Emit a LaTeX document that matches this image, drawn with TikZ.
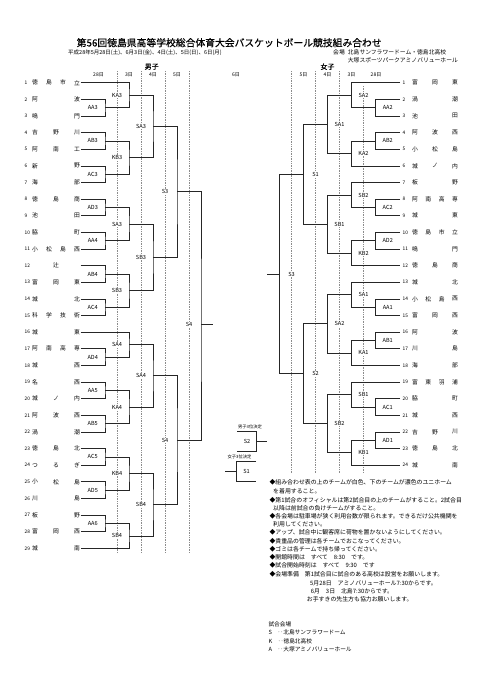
\documentclass[tikz,border=0pt]{standalone}
\usepackage{fontspec}
\setmainfont{Noto Sans CJK JP}
\newfontfamily\boldish[FakeBold=0.6]{Noto Sans CJK JP}
\newcommand\Yr[1]{82.7+16.63*(#1-1)}
\tikzset{
  br/.style={draw=black!85, line width=0.7pt},
  sep/.style={draw=black!45, line width=0.5pt, dash pattern=on 1pt off 0.7pt},
  lab/.style={font=\fontsize{5.6}{6}\selectfont, fill=white, inner sep=0.6pt},
  nm/.style={font=\fontsize{5.8}{6}\selectfont, inner sep=0pt},
  num/.style={font=\fontsize{4.8}{5}\selectfont, inner sep=0pt, anchor=west},
  txt/.style={font=\fontsize{5.9}{6}\selectfont, inner sep=0pt, anchor=west},
  day/.style={font=\fontsize{5}{5}\selectfont, inner sep=0pt},
  hd/.style={font=\boldish\fontsize{7}{7}\selectfont, inner sep=0pt},
  small/.style={font=\fontsize{4.3}{5}\selectfont, inner sep=0pt},
}
\newcommand\mt[7]{%
  \coordinate (#1) at (#2,{\Yr{#3}});
  \draw[br] (#4) -| (#1) |- (#5);
  \node[lab] (#1l) at (#6,{\Yr{#3}}) {#7};
}
\newcommand\tmM[3]{%
  \coordinate (m#1) at (80.5,{\Yr{#1}});
  \node[num] (mnum#1) at (24.5,{\Yr{#1}}) {#1};
  \foreach \c [count=\k] in {#3} {\node[nm] (mname#1-\k) at ({35+21*(#2==1)+(\k-1)*42/max(#2-1,1)},{\Yr{#1}}) {\c};}
}
\newcommand\tmW[3]{%
  \coordinate (w#1) at (400,{\Yr{#1}});
  \node[num] (wnum#1) at (402.5,{\Yr{#1}}) {#1};
  \foreach \c [count=\k] in {#3} {\node[nm] (wname#1-\k) at ({415+20*(#2==1)+(\k-1)*40/max(#2-1,1)},{\Yr{#1}}) {\c};}
}
\begin{document}
\begin{tikzpicture}[x=1pt,y=-1pt]
\useasboundingbox[fill=white] (0,0) rectangle (481,680);
% header
\node[font=\boldish\fontsize{9.8}{10}\selectfont, inner sep=0pt] (title) at (229.2,42.7) {第56回徳島県高等学校総合体育大会バスケットボール競技組み合わせ};
\node[txt, font=\fontsize{5.5}{6}\selectfont] (dates) at (68,52.3) {平成28年5月28日(土)、6月3日(金)、4日(土)、5日(日)、6日(月)};
\node[txt, font=\fontsize{5.8}{6}\selectfont] (kaijo) at (333,52.3) {会場};
\node[txt, font=\fontsize{5.8}{6}\selectfont] (ven1) at (347.7,52.3) {北島サンフラワードーム・徳島北高校};
\node[txt, font=\fontsize{5.8}{6}\selectfont] (ven2) at (347.7,60) {大塚スポーツパークアミノバリューホール};
\node[hd] (boys) at (151.7,66.7) {男子};
\node[hd] (girls) at (327.5,66.7) {女子};
\node[day] (d1) at (98.5,75) {28日};
\node[day] (d2) at (129,75) {3日};
\node[day] (d3) at (153,75) {4日};
\node[day] (d4) at (177,75) {5日};
\node[day] (d5) at (236,75) {6日};
\node[day] (e4) at (303.5,75) {5日};
\node[day] (e3) at (327.5,75) {4日};
\node[day] (e2) at (351.5,75) {3日};
\node[day] (e1) at (376,75) {28日};
% separators
\foreach \sx in {117,141,165,189} {\draw[sep] (\sx,71) -- (\sx,553);}
\foreach \sx in {291.5,315.5,339.5} {\draw[sep] (\sx,71) -- (\sx,473);}
\draw[sep] (363.5,86) -- (363.5,473);
% men teams
\tmM{1}{4}{徳,島,市,立}
\tmM{2}{2}{阿,波}
\tmM{3}{2}{鳴,門}
\tmM{4}{3}{吉,野,川}
\tmM{5}{3}{阿,南,工}
\tmM{6}{2}{新,野}
\tmM{7}{2}{海,部}
\tmM{8}{3}{徳,島,商}
\tmM{9}{2}{池,田}
\tmM{10}{2}{脇,町}
\tmM{11}{4}{小,松,島,西}
\tmM{12}{1}{辻}
\tmM{13}{3}{富,岡,東}
\tmM{14}{2}{城,北}
\tmM{15}{4}{科,学,技,術}
\tmM{16}{2}{城,東}
\tmM{17}{4}{阿,南,高,専}
\tmM{18}{2}{城,西}
\tmM{19}{2}{名,西}
\tmM{20}{3}{城,ノ,内}
\tmM{21}{3}{阿,波,西}
\tmM{22}{2}{渦,潮}
\tmM{23}{3}{徳,島,北}
\tmM{24}{3}{つ,る,ぎ}
\tmM{25}{3}{小,松,島}
\tmM{26}{2}{川,島}
\tmM{27}{2}{板,野}
\tmM{28}{3}{富,岡,西}
\tmM{29}{2}{城,南}
% women teams
\tmW{1}{3}{富,岡,東}
\tmW{2}{2}{渦,潮}
\tmW{3}{2}{池,田}
\tmW{4}{3}{阿,波,西}
\tmW{5}{3}{小,松,島}
\tmW{6}{3}{城,ノ,内}
\tmW{7}{2}{板,野}
\tmW{8}{4}{阿,南,高,専}
\tmW{9}{2}{城,東}
\tmW{10}{4}{徳,島,市,立}
\tmW{11}{2}{鳴,門}
\tmW{12}{3}{徳,島,商}
\tmW{13}{2}{城,北}
\tmW{14}{4}{小,松,島,西}
\tmW{15}{3}{富,岡,西}
\tmW{16}{2}{阿,波}
\tmW{17}{2}{川,島}
\tmW{18}{2}{海,部}
\tmW{19}{4}{富,東,羽,浦}
\tmW{20}{2}{脇,町}
\tmW{21}{2}{城,西}
\tmW{22}{3}{吉,野,川}
\tmW{23}{3}{徳,島,北}
\tmW{24}{2}{城,南}
% men bracket
\mt{AA3}{105}{2.5}{m2}{m3}{92.75}{AA3}
\mt{KA3}{129}{1.75}{m1}{AA3}{117}{KA3}
\mt{AB3}{105}{4.5}{m4}{m5}{92.75}{AB3}
\mt{AC3}{105}{6.5}{m6}{m7}{92.75}{AC3}
\mt{KB3}{129}{5.5}{AB3}{AC3}{117}{KB3}
\mt{SA3a}{153}{3.625}{KA3}{KB3}{141}{SA3}
\mt{AD3}{105}{8.5}{m8}{m9}{92.75}{AD3}
\mt{AA4}{105}{10.5}{m10}{m11}{92.75}{AA4}
\mt{SA3b}{129}{9.5}{AD3}{AA4}{117}{SA3}
\mt{AB4}{105}{12.5}{m12}{m13}{92.75}{AB4}
\mt{AC4}{105}{14.5}{m14}{m15}{92.75}{AC4}
\mt{SB3a}{129}{13.5}{AB4}{AC4}{117}{SB3}
\mt{SB3b}{153}{11.5}{SA3b}{SB3a}{141}{SB3}
\mt{S3m}{177}{7.5625}{SA3a}{SB3b}{165}{S3}
\mt{AD4}{105}{17.5}{m17}{m18}{92.75}{AD4}
\mt{SA4a}{129}{16.75}{m16}{AD4}{117}{SA4}
\mt{AA5}{105}{19.5}{m19}{m20}{92.75}{AA5}
\mt{AB5}{105}{21.5}{m21}{m22}{92.75}{AB5}
\mt{KA4}{129}{20.5}{AA5}{AB5}{117}{KA4}
\mt{SA4b}{153}{18.625}{SA4a}{KA4}{141}{SA4}
\mt{AC5}{105}{23.5}{m23}{m24}{92.75}{AC5}
\mt{AD5}{105}{25.5}{m25}{m26}{92.75}{AD5}
\mt{KB4}{129}{24.5}{AC5}{AD5}{117}{KB4}
\mt{AA6}{105}{27.5}{m27}{m28}{92.75}{AA6}
\mt{SB4a}{129}{28.25}{AA6}{m29}{117}{SB4}
\mt{SB4b}{153}{26.375}{KB4}{SB4a}{141}{SB4}
\mt{S4a}{177}{22.5}{SA4b}{SB4b}{165}{S4}
\mt{S4b}{201}{15.53}{S3m}{S4a}{189}{S4}
\coordinate (mfin) at (213,{\Yr{15.53}});
\draw[br] (S4b) -- (mfin);
% women bracket
\mt{wAA2}{375.5}{2.5}{w2}{w3}{387.75}{AA2}
\mt{wSA2a}{351.5}{1.75}{w1}{wAA2}{363.5}{SA2}
\mt{wAB2}{375.5}{4.5}{w4}{w5}{387.75}{AB2}
\mt{wKA2}{351.5}{5.25}{wAB2}{w6}{363.5}{KA2}
\mt{wSA1a}{327.5}{3.5}{wSA2a}{wKA2}{339.5}{SA1}
\mt{wAC2}{375.5}{8.5}{w8}{w9}{387.75}{AC2}
\mt{wSB2a}{351.5}{7.75}{w7}{wAC2}{363.5}{SB2}
\mt{wAD2}{375.5}{10.5}{w10}{w11}{387.75}{AD2}
\mt{wKB2}{351.5}{11.25}{wAD2}{w12}{363.5}{KB2}
\mt{wSB1a}{327.5}{9.5}{wSB2a}{wKB2}{339.5}{SB1}
\mt{wS1}{303.5}{6.5}{wSA1a}{wSB1a}{315.5}{S1}
\mt{wAA1}{375.5}{14.5}{w14}{w15}{387.75}{AA1}
\mt{wSA1b}{351.5}{13.75}{w13}{wAA1}{363.5}{SA1}
\mt{wAB1}{375.5}{16.5}{w16}{w17}{387.75}{AB1}
\mt{wKA1}{351.5}{17.25}{wAB1}{w18}{363.5}{KA1}
\mt{wSA2b}{327.5}{15.5}{wSA1b}{wKA1}{339.5}{SA2}
\mt{wAC1}{375.5}{20.5}{w20}{w21}{387.75}{AC1}
\mt{wSB1b}{351.5}{19.75}{w19}{wAC1}{363.5}{SB1}
\mt{wAD1}{375.5}{22.5}{w22}{w23}{387.75}{AD1}
\mt{wKB1}{351.5}{23.25}{wAD1}{w24}{363.5}{KB1}
\mt{wSB2b}{327.5}{21.5}{wSB1b}{wKB1}{339.5}{SB2}
\mt{wS2}{303.5}{18.5}{wSA2b}{wSB2b}{315.5}{S2}
\mt{wS3}{279.5}{12.5}{wS1}{wS2}{291.5}{S3}
\coordinate (wfin) at (266.7,{\Yr{12.5}});
\draw[br] (wS3) -- (wfin);
% third place games
\node[small] (t2t) at (250,427.3) {男子3位決定};
\coordinate (t2a) at (237,431.5);
\coordinate (t2b) at (237,451);
\coordinate (t2v) at (256.7,441.25);
\coordinate (t2e) at (267,441.25);
\draw[br] (t2a) -| (t2v) |- (t2b);
\draw[br] (t2v) -- (t2e);
\node[lab] (t2l) at (247,441.25) {S2};
\node[small] (t1t) at (239.5,457.3) {女子3位決定};
\coordinate (t1a) at (256,461.5);
\coordinate (t1b) at (256,481);
\coordinate (t1v) at (236.7,471.25);
\coordinate (t1e) at (225,471.25);
\draw[br] (t1a) -| (t1v) |- (t1b);
\draw[br] (t1v) -- (t1e);
\node[lab] (t1l) at (246.5,471.25) {S1};
% notes
\node[txt] (n1) at (269.3,482.7) {◆組み合わせ表の上のチームが白色、下のチームが濃色のユニホーム};
\node[txt] (n2) at (273,491) {を着用すること。};
\node[txt] (n3) at (269.3,500.7) {◆第1試合のオフィシャルは第2試合目の上のチームがすること。2試合目};
\node[txt] (n4) at (273,508.7) {以降は前試合の負けチームがすること。};
\node[txt] (n5) at (269.3,516.3) {◆各会場は駐車場が狭く利用台数が限られます。できるだけ公共機関を};
\node[txt] (n6) at (273,524) {利用してください。};
\node[txt] (n7) at (269.3,532.7) {◆アップ、試合中に観客席に荷物を置かないようにしてください。};
\node[txt] (n8) at (269.3,541) {◆貴重品の管理は各チームでおこなってください。};
\node[txt] (n9) at (269.3,548.9) {◆ゴミは各チームで持ち帰ってください。};
\node[txt] (n10) at (269.3,557) {◆開館時間は　すべて　8:30　です。};
\node[txt] (n11) at (269.3,565.3) {◆試合開始時刻は　すべて　9:30　です};
\node[txt] (n12) at (269.3,574.5) {◆会場準備　第1試合目に試合のある高校は設営をお願いします。};
\node[txt] (n13) at (310,583.3) {5月28日　アミノバリューホール7:30からです。};
\node[txt] (n14) at (310.7,591) {6月　3日　北島7:30からです。};
\node[txt] (n15) at (306.7,599) {お手すきの先生方も協力お願いします。};
% legend
\node[txt, font=\fontsize{5.7}{6}\selectfont] (g0) at (268.3,624) {試合会場};
\node[txt, font=\fontsize{5.7}{6}\selectfont] (g1) at (268.3,632.7) {S　‥北島サンフラワードーム};
\node[txt, font=\fontsize{5.7}{6}\selectfont] (g2) at (268.3,641) {K　‥徳島北高校};
\node[txt, font=\fontsize{5.7}{6}\selectfont] (g3) at (268.3,649.3) {A　‥大塚アミノバリューホール};
\end{tikzpicture}
\end{document}
